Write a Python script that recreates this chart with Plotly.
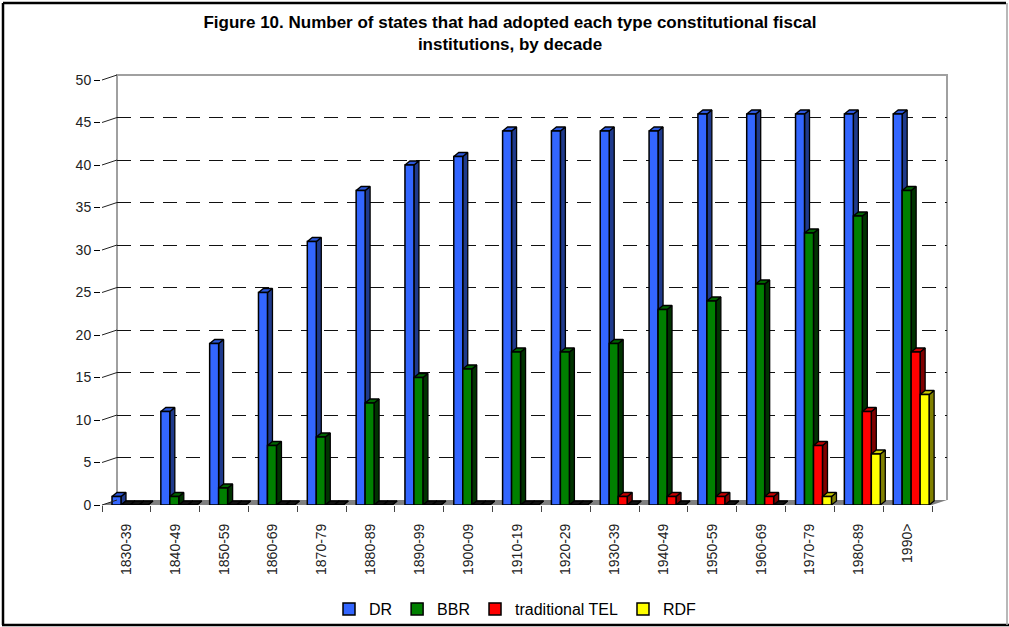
import plotly.graph_objects as go

# ---- data -------------------------------------------------------------
decades = ["1830-39", "1840-49", "1850-59", "1860-69", "1870-79", "1880-89",
           "1890-99", "1900-09", "1910-19", "1920-29", "1930-39", "1940-49",
           "1950-59", "1960-69", "1970-79", "1980-89", "1990>"]
dr = [1, 11, 19, 25, 31, 37, 40, 41, 44, 44, 44, 44, 46, 46, 46, 46, 46]
bbr = [0, 1, 2, 7, 8, 12, 15, 16, 18, 18, 19, 23, 24, 26, 32, 34, 37]
tel = [0, 0, 0, 0, 0, 0, 0, 0, 0, 0, 1, 1, 1, 1, 7, 11, 18]
rdf = [0, 0, 0, 0, 0, 0, 0, 0, 0, 0, 0, 0, 0, 0, 1, 6, 13]
y_ticks = [0, 5, 10, 15, 20, 25, 30, 35, 40, 45, 50]

# name, values, front colour, side colour, top colour
series = [
    ("DR", dr, "#3366FF", "#1F3A8C", "#2C58DC"),
    ("BBR", bbr, "#008000", "#003300", "#006400"),
    ("traditional TEL", tel, "#FF0000", "#800000", "#C80000"),
    ("RDF", rdf, "#FFFF00", "#808000", "#CCCC00"),
]

# ---- page geometry (pixels) --------------------------------------------
W, H = 1009, 627


def fx(px):
    return px / W


def fy(py):
    return 1 - py / H


FX0 = 102            # x of the value axis
FY0, FY1 = 505, 80   # y of 0 and of the top of the value axis
Y_MAX = 50
N_CAT = len(decades)
CAT_PX = (932 - FX0) / N_CAT
Y_PX = (FY0 - FY1) / Y_MAX
DEPTH_X, DEPTH_Y = 15, 5          # offset of the back wall
X_MIN, X_MAX = -0.5, N_CAT - 0.4  # a little room for the last bar's side
FX1 = FX0 + (X_MAX - X_MIN) * CAT_PX
BX0, BX1 = FX0 + DEPTH_X, FX0 + DEPTH_X + N_CAT * CAT_PX   # back wall x span
BY0, BY1 = FY0 - DEPTH_Y, FY1 - DEPTH_Y                     # back wall y span

# bar faces: front width / first offset in category units, depth of the 3-D look
BAR_W = 0.184
BAR_OFF0 = -0.295
SIDE_DX = 5 / CAT_PX
SIDE_DY = 4 / Y_PX

FONT = "Liberation Sans, Arial, sans-serif"
xs = list(range(N_CAT))

fig = go.Figure()

# invisible trace that establishes the back-wall subplot
fig.add_trace(go.Scatter(x=[None], y=[None], xaxis="x", yaxis="y",
                         showlegend=False, hoverinfo="skip"))


def face_trace(px, py, color, z):
    return go.Scatter(
        x=px, y=py, mode="lines", fill="toself", fillcolor=color,
        line=dict(color="black", width=1.3), xaxis="x2", yaxis="y2",
        showlegend=False, hoverinfo="skip", zorder=z)


for i, (name, vals, front, side, top) in enumerate(series):
    offset = BAR_OFF0 + i * BAR_W
    sx, sy, tx, ty, fx0, fy0 = [], [], [], [], [], []
    for c, v in zip(xs, vals):
        x0 = c + offset
        x1 = x0 + BAR_W
        sx += [x1, x1 + SIDE_DX, x1 + SIDE_DX, x1, x1, None]
        sy += [0, SIDE_DY, v + SIDE_DY, v, 0, None]
        # a zero-height box collapses to a dark sliver on the floor
        tgt_x, tgt_y = (tx, ty) if v > 0 else (fx0, fy0)
        tgt_x += [x0, x0 + SIDE_DX, x1 + SIDE_DX, x1, x0, None]
        tgt_y += [v, v + SIDE_DY, v + SIDE_DY, v, v, None]
    fig.add_trace(face_trace(sx, sy, side, 2 * i))
    if tx:
        fig.add_trace(face_trace(tx, ty, top, 2 * i))
    if fx0:
        fig.add_trace(face_trace(fx0, fy0, "#111111", 2 * i))
    fig.add_trace(go.Bar(
        x=xs, y=vals, name=name, width=BAR_W, offset=offset,
        marker=dict(color=front, line=dict(color="black", width=1.5)),
        xaxis="x2", yaxis="y2", zorder=2 * i + 1))

shapes = []
# grey floor of the chart box
shapes.append(dict(
    type="path", xref="paper", yref="paper", layer="below",
    path=(f"M{fx(FX0)},{fy(FY0)} L{fx(932)},{fy(FY0)} "
          f"L{fx(BX1)},{fy(BY0)} L{fx(BX0)},{fy(BY0)} Z"),
    fillcolor="#808080", line=dict(width=0)))
# edges of the back and side walls
shapes.append(dict(
    type="path", xref="paper", yref="paper", layer="below",
    path=(f"M{fx(BX0)},{fy(BY0)} L{fx(BX0)},{fy(BY1)} "
          f"L{fx(BX1)},{fy(BY1)} L{fx(BX1)},{fy(BY0)}"),
    line=dict(color="#A0A0A0", width=2)))
# short slanted links from the value-axis ticks to the back wall
for v in y_ticks:
    yf = FY0 - v * Y_PX
    shapes.append(dict(
        type="line", xref="paper", yref="paper",
        x0=fx(FX0), y0=fy(yf), x1=fx(BX0), y1=fy(yf - DEPTH_Y),
        line=dict(color="#222222", width=1)))
# outer frame
shapes += [
    dict(type="line", xref="paper", yref="paper", x0=fx(3), y0=fy(3),
         x1=fx(1006), y1=fy(3), line=dict(color="black", width=2.5)),
    dict(type="line", xref="paper", yref="paper", x0=fx(3), y0=fy(3),
         x1=fx(3), y1=fy(625), line=dict(color="black", width=2.5)),
    dict(type="line", xref="paper", yref="paper", x0=fx(2), y0=fy(625),
         x1=fx(1009), y1=fy(625), line=dict(color="black", width=2.5)),
    dict(type="line", xref="paper", yref="paper", x0=fx(1007), y0=fy(3),
         x1=fx(1007), y1=fy(625), line=dict(color="#A0A0A0", width=1.5)),
]

fig.update_layout(
    width=W, height=H,
    margin=dict(l=0, r=0, t=0, b=0, autoexpand=False),
    paper_bgcolor="white",
    plot_bgcolor="rgba(0,0,0,0)",
    barmode="overlay",
    font=dict(family=FONT, color="#222222"),
    title=dict(
        text=("Figure 10. Number of states that had adopted each type constitutional fiscal"
              "<br>institutions, by decade"),
        font=dict(family=FONT, size=17, color="black", weight="bold"),
        x=fx(510), xanchor="center", xref="container",
        y=fy(28), yanchor="top", yref="container"),
    # back wall
    xaxis=dict(domain=[fx(BX0), fx(BX1)],
               range=[-0.5, N_CAT - 0.5], showgrid=False, zeroline=False,
               showticklabels=False, ticks="", showline=False, fixedrange=True),
    yaxis=dict(domain=[fy(BY0), fy(BY1)],
               range=[0, Y_MAX], tickmode="array", tickvals=y_ticks[1:-1],
               showgrid=True, gridcolor="#111111", gridwidth=1,
               griddash="14px,9px", zeroline=False, showticklabels=False,
               ticks="", showline=False, fixedrange=True),
    # front plane with the bars
    xaxis2=dict(domain=[fx(FX0), fx(FX1)], range=[X_MIN, X_MAX],
                anchor="y2", showgrid=False, zeroline=False, showline=False,
                tickmode="array", tickvals=xs, ticktext=decades,
                tickangle=-90, ticks="outside", ticklen=12,
                tickcolor="rgba(0,0,0,0)",
                tickfont=dict(family=FONT, size=14, color="#222222"),
                minor=dict(ticks="outside", tick0=-0.5, dtick=1, ticklen=6,
                           tickwidth=1, tickcolor="#444444", showgrid=False),
                fixedrange=True),
    yaxis2=dict(domain=[fy(FY0), fy(FY1)], range=[0, Y_MAX], anchor="x2",
                tickmode="array", tickvals=y_ticks, showgrid=False,
                zeroline=False, showline=True, linecolor="black", linewidth=2,
                ticks="outside", ticklen=6, tickwidth=1, tickcolor="black",
                tickfont=dict(family=FONT, size=14, color="#222222"),
                fixedrange=True),
    legend=dict(orientation="h", x=fx(329), xanchor="left", y=fy(609),
                yanchor="middle", font=dict(family=FONT, size=16, color="black"),
                bgcolor="rgba(0,0,0,0)", traceorder="normal"),
    shapes=shapes,
    showlegend=True,
)

fig.write_html("out.html")
